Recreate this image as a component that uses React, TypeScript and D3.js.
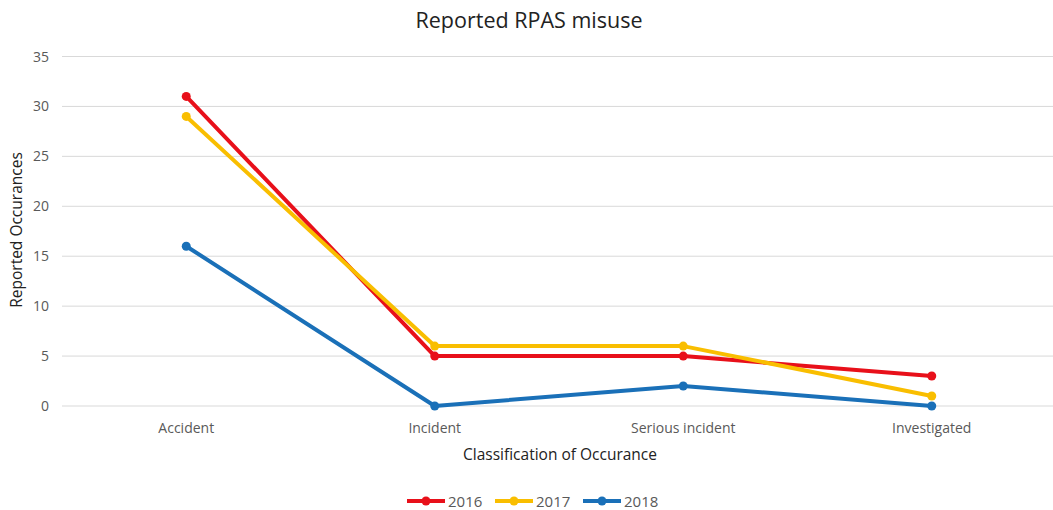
import React from "react";
import * as d3 from "d3";

const categories = ["Accident", "Incident", "Serious incident", "Investigated"];
const series2016 = [31, 5, 5, 3];
const series2017 = [29, 6, 6, 1];
const series2018 = [16, 0, 2, 0];
const seriesNames = ["2016", "2017", "2018"];
const seriesColors = ["#E8101A", "#F9BE00", "#1A70B8"];
const yTicks = [0, 5, 10, 15, 20, 25, 30, 35];

const W = 1053;
const H = 510;
const FONT = "'Open Sans', 'Noto Sans', sans-serif";

export default function App() {
  const x = d3.scaleBand<string>().domain(categories).range([62, 1056]);
  const y = d3.scaleLinear().domain([0, 35]).range([406, 56.5]);
  const allSeries = [series2016, series2017, series2018];
  const line = d3
    .line<number>()
    .x((_, i) => (x(categories[i]) as number) + x.bandwidth() / 2)
    .y((d) => y(d));

  const legendX = [407, 495, 583];
  const legendY = 501;

  return (
    <svg width={W} height={H} style={{ position: "absolute", left: 0, top: 0, background: "#fff" }}>
      <rect x={0} y={0} width={W} height={H} fill="#fff" />
      <text x={529} y={28} textAnchor="middle" fontFamily={FONT} fontSize={21.5} fill="#222">
        Reported RPAS misuse
      </text>
      {yTicks.map((t) => (
        <g key={t}>
          <line x1={62} x2={1056} y1={y(t)} y2={y(t)} stroke="#d9d9d9" strokeWidth={1} />
          <text x={49} y={y(t) + 5} textAnchor="end" fontFamily={FONT} fontSize={14} fill="#595959">
            {t}
          </text>
        </g>
      ))}
      {categories.map((c) => (
        <text
          key={c}
          x={(x(c) as number) + x.bandwidth() / 2}
          y={433}
          textAnchor="middle"
          fontFamily={FONT}
          fontSize={14}
          fill="#595959"
        >
          {c}
        </text>
      ))}
      <text x={560} y={460} textAnchor="middle" fontFamily={FONT} fontSize={15.5} fill="#222">
        Classification of Occurance
      </text>
      <text
        transform={`translate(22,230) rotate(-90)`}
        textAnchor="middle"
        fontFamily={FONT}
        fontSize={15.5}
        fill="#222"
      >
        Reported Occurances
      </text>
      {allSeries.map((s, si) => (
        <g key={si}>
          <path d={line(s) || ""} fill="none" stroke={seriesColors[si]} strokeWidth={4} strokeLinejoin="round" strokeLinecap="round" />
          {s.map((v, i) => (
            <circle
              key={i}
              cx={(x(categories[i]) as number) + x.bandwidth() / 2}
              cy={y(v)}
              r={4.5}
              fill={seriesColors[si]}
            />
          ))}
        </g>
      ))}
      {seriesNames.map((n, i) => (
        <g key={n}>
          <line x1={legendX[i]} x2={legendX[i] + 38} y1={legendY} y2={legendY} stroke={seriesColors[i]} strokeWidth={4} />
          <circle cx={legendX[i] + 19} cy={legendY} r={4.5} fill={seriesColors[i]} />
          <text x={legendX[i] + 41} y={legendY + 5.5} fontFamily={FONT} fontSize={15} fill="#595959">
            {n}
          </text>
        </g>
      ))}
    </svg>
  );
}
